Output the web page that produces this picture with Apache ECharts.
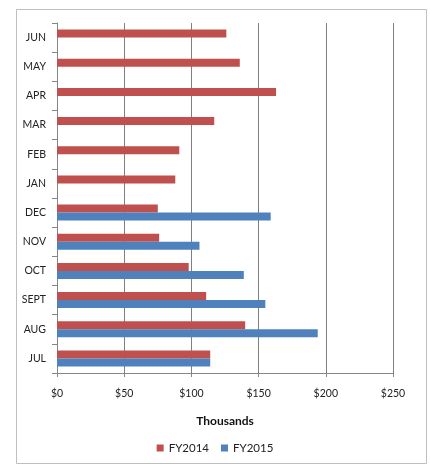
<!DOCTYPE html>
<html><head><meta charset="utf-8">
<script src="https://cdn.jsdelivr.net/npm/echarts@6/dist/echarts.min.js"></script>
<style>html,body{margin:0;padding:0;background:#fff}#c{width:430px;height:466px}</style>
</head><body><div id="c"></div>
<script>
const categories = ['JUL','AUG','SEPT','OCT','NOV','DEC','JAN','FEB','MAR','APR','MAY','JUN'];
const fy2014 = [114, 140, 111, 98, 76, 75, 88, 91, 117, 163, 136, 126];
const fy2015 = [114, 194, 155, 139, 106, 159, null, null, null, null, null, null];
const xTicks = [0, 50, 100, 150, 200, 250];
const font = 'Lato, "Open Sans", sans-serif';
const chart = echarts.init(document.getElementById('c'), null, {renderer:'canvas'});
chart.setOption({
  animation:false,
  graphic:[{type:'rect', shape:{x:16.5,y:9.5,width:410,height:454}, style:{fill:'none', stroke:'#bfbfbf', lineWidth:1}, z:-1}],
  grid:{left:57, right:37, top:23, bottom:93},
  legend:{bottom:7, left:'center', itemWidth:7, itemHeight:7, itemGap:12, icon:'rect',
    textStyle:{fontFamily:font, fontSize:11.5, color:'#222'}, data:['FY2014','FY2015']},
  xAxis:{type:'value', min:0, max:250, interval:50,
    name:'Thousands', nameLocation:'middle', nameGap:42,
    nameTextStyle:{fontFamily:font, fontSize:12, fontWeight:'bold', color:'#111'},
    axisLine:{show:true, lineStyle:{color:'#868686'}},
    axisTick:{show:true, length:4, lineStyle:{color:'#868686'}},
    axisLabel:{fontFamily:font, fontSize:10.5, color:'#222', margin:15, formatter:v=>'$'+v},
    splitLine:{show:true, lineStyle:{color:'#7f7f7f', width:1}}},
  yAxis:{type:'category', data:categories,
    axisLine:{show:true, lineStyle:{color:'#868686'}},
    axisTick:{show:true, length:5, lineStyle:{color:'#868686'}},
    axisLabel:{fontFamily:font, fontSize:10.5, color:'#222', margin:11}},
  series:[
    {name:'FY2014', type:'bar', data:fy2014, barWidth:8, barGap:'0%', itemStyle:{color:'#C0504D'}},
    {name:'FY2015', type:'bar', data:fy2015, barWidth:8, barGap:'0%', itemStyle:{color:'#4F81BD'}}
  ]
});
</script></body></html>
